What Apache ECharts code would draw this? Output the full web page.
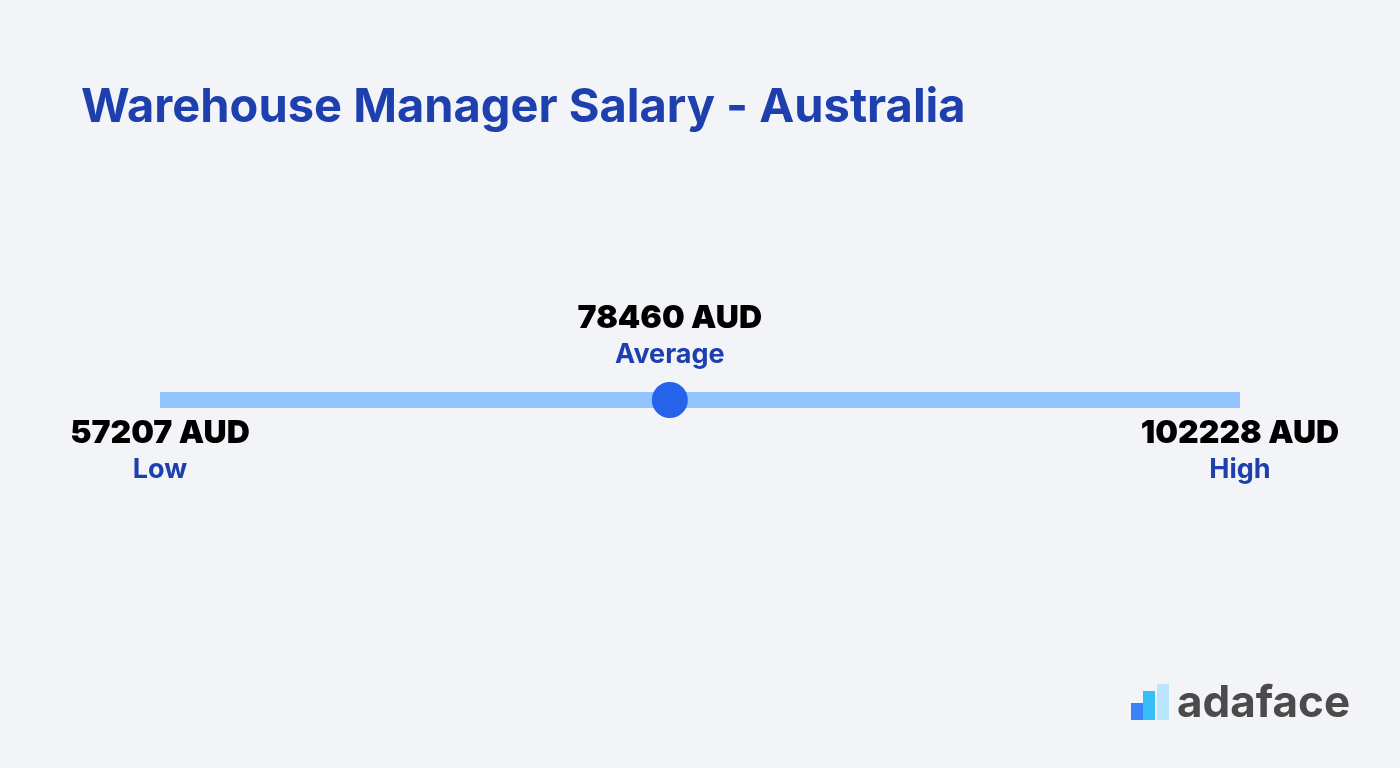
<!DOCTYPE html>
<html>
<head>
<meta charset="utf-8">
<script src="https://cdn.jsdelivr.net/npm/echarts@6/dist/echarts.min.js"></script>
<style>
html,body{margin:0;padding:0;background:#f3f4f7;}
#chart{width:1400px;height:768px;}
</style>
</head>
<body>
<div id="chart"></div>
<script>
const titleText = 'Warehouse Manager Salary - Australia';
const categories = ['Low', 'Average', 'High'];
const salaryValues = [57207, 78460, 102228];
const currency = 'AUD';
const brandName = 'adaface';

const chart = echarts.init(document.getElementById('chart'));
const low = salaryValues[0], avg = salaryValues[1], high = salaryValues[2];

const labelPoints = categories.map((c, i) => ({
  value: [salaryValues[i], 0],
  name: c,
  label: {
    position: i === 1 ? 'top' : 'bottom',
    distance: i === 1 ? 27 : 14
  }
}));

chart.setOption({
  backgroundColor: '#f3f4f7',
  animation: false,
  title: {
    text: titleText,
    left: 76,
    top: 79,
    textStyle: {
      color: '#1e40af',
      fontSize: 47,
      fontWeight: 'bold',
      fontFamily: 'Inter'
    }
  },
  grid: { left: 160, right: 160, top: 200, bottom: 168 },
  xAxis: { type: 'value', min: low, max: high, show: false },
  yAxis: { type: 'value', min: -1, max: 1, show: false },
  series: [
    {
      type: 'line',
      data: [[low, 0], [high, 0]],
      symbol: 'none',
      lineStyle: { color: '#93c5fd', width: 16, cap: 'butt' },
      z: 1
    },
    {
      type: 'scatter',
      data: [[avg, 0]],
      symbolSize: 36,
      itemStyle: { color: '#2563eb', opacity: 1 },
      z: 3
    },
    {
      type: 'scatter',
      data: labelPoints,
      symbolSize: 0,
      itemStyle: { color: 'rgba(0,0,0,0)', opacity: 1 },
      z: 4,
      label: {
        show: true,
        formatter: p => '{v|' + p.value[0] + ' ' + currency + '}\n{n|' + p.name + '}',
        align: 'center',
        rich: {
          v: { fontSize: 32, fontWeight: 900, color: '#000000', fontFamily: 'Inter', lineHeight: 38, align: 'center' },
          n: { fontSize: 27, fontWeight: 'bold', color: '#1e40af', fontFamily: 'Inter', lineHeight: 36, align: 'center' }
        }
      }
    }
  ],
  graphic: [
    { type: 'rect', shape: { x: 1131, y: 703, width: 12, height: 17 }, style: { fill: '#3b82f6' } },
    { type: 'rect', shape: { x: 1143, y: 691, width: 12, height: 29 }, style: { fill: '#38bdf8' } },
    { type: 'rect', shape: { x: 1157, y: 684, width: 12, height: 36 }, style: { fill: '#bae6fd' } },
    { type: 'text', x: 1177, y: 704, style: { text: brandName, fill: '#4b4b4b', fontSize: 44, fontWeight: 'bold', fontFamily: 'Inter', verticalAlign: 'middle' } }
  ]
});
</script>
</body>
</html>
